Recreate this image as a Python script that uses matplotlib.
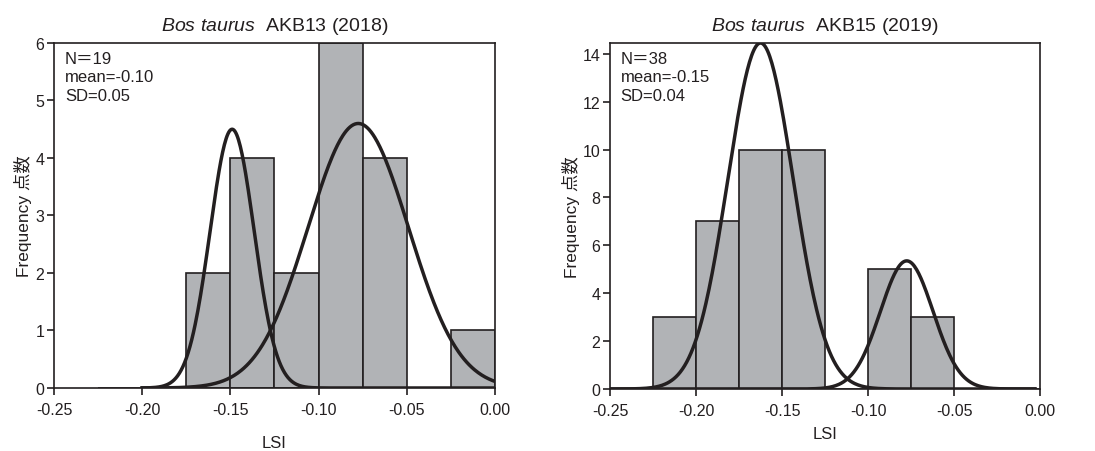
import numpy as np
import matplotlib
matplotlib.use("Agg")
import matplotlib.pyplot as plt

plt.rcParams['font.family'] = ['Liberation Sans', 'Noto Sans CJK JP']
plt.rcParams['mathtext.fontset'] = 'custom'
plt.rcParams['mathtext.it'] = 'Liberation Sans:italic'
plt.rcParams['mathtext.rm'] = 'Liberation Sans'

# bins (LSI), width 0.025
bin_edges = [-0.225, -0.2, -0.175, -0.15, -0.125, -0.1, -0.075, -0.05, -0.025, 0.0]

# AKB13 (2018)
counts_2018 = [0, 0, 2, 4, 2, 6, 4, 0, 1]
# fitted normal components: mean, sd, peak height
comp_2018 = [(-0.149, 0.0125, 4.5), (-0.0775, 0.0285, 4.6)]
stats_2018 = "N\uff1d19\nmean=-0.10\nSD=0.05"

# AKB15 (2019)
counts_2019 = [3, 7, 10, 10, 0, 5, 3, 0, 0]
comp_2019 = [(-0.1625, 0.019, 14.45), (-0.0775, 0.0153, 5.35)]
stats_2019 = "N\uff1d38\nmean=-0.15\nSD=0.04"

bar_color = '#b1b3b6'
line_color = '#231f20'

fig = plt.figure(figsize=(10.95, 4.52), dpi=100)
ax1 = fig.add_axes([0.0493, 0.1394, 0.4027, 0.7633])
ax2 = fig.add_axes([0.5571, 0.1372, 0.3927, 0.7655])


def draw_panel(ax, counts, comps, stats, title, ylim, yticks, curve_range, labelpad):
    left = bin_edges[:-1]
    widths = np.diff(bin_edges)
    ax.bar(left, counts, width=widths, align='edge', color=bar_color,
           edgecolor=line_color, linewidth=1.2, zorder=2)
    x = np.linspace(curve_range[0], curve_range[1], 400)
    for mu, sd, peak in comps:
        ax.plot(x, peak * np.exp(-(x - mu) ** 2 / (2 * sd ** 2)),
                color=line_color, linewidth=2.5, zorder=3)
    ax.set_xlim(-0.25, 0.0)
    ax.set_ylim(ylim)
    ax.set_xticks([-0.25, -0.20, -0.15, -0.10, -0.05, 0.0])
    ax.set_xticklabels(['-0.25', '-0.20', '-0.15', '-0.10', '-0.05', '0.00'])
    ax.set_yticks(yticks)
    ax.tick_params(direction='out', length=5, width=1.2, labelsize=11.5,
                   colors=line_color)
    ax.tick_params(axis='y', pad=2)
    ax.tick_params(axis='x', pad=5)
    for s in ax.spines.values():
        s.set_linewidth(1.2)
        s.set_color(line_color)
    ax.set_xlabel('LSI', fontsize=12, labelpad=labelpad, color=line_color)
    ax.set_ylabel('Frequency 点数', fontsize=12.5, labelpad=2, color=line_color)
    ax.set_title(title, fontsize=14, pad=9, color=line_color)
    ax.text(0.025, 0.978, stats, transform=ax.transAxes, va='top', ha='left',
            fontsize=12, linespacing=1.3, color=line_color)


draw_panel(ax1, counts_2018, comp_2018, stats_2018,
           r'$\it{Bos\ taurus}$  AKB13 (2018)', (0, 6), range(0, 7),
           (-0.2, 0.0), 13)
draw_panel(ax2, counts_2019, comp_2019, stats_2019,
           r'$\it{Bos\ taurus}$  AKB15 (2019)', (0, 14.45), range(0, 15, 2),
           (-0.25, -0.003), 6)

fig.savefig('out.png', dpi=100)
